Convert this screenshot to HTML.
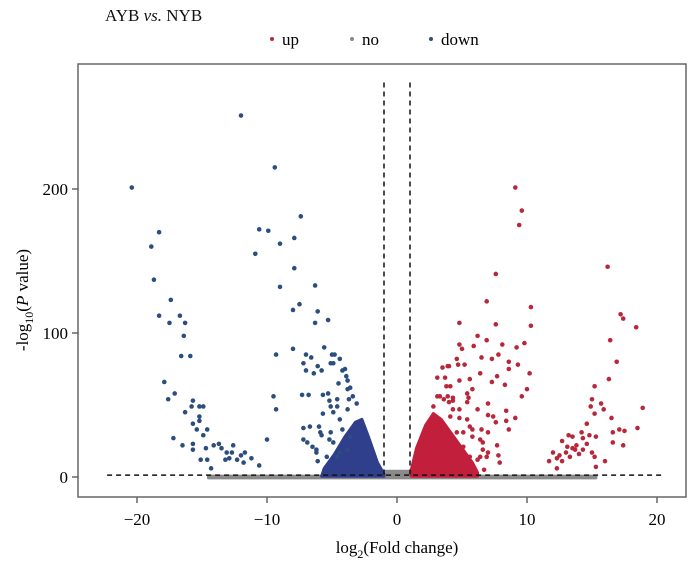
<!DOCTYPE html>
<html><head><meta charset="utf-8"><style>
html,body{margin:0;padding:0;background:#fff}
svg{display:block;font-family:"Liberation Serif",serif}
</style></head><body>
<svg id="chart" width="700" height="563" viewBox="0 0 700 563">
<text x="105" y="21" font-size="17" fill="#111">AYB <tspan font-style="italic">vs.</tspan> NYB</text>
<g>
<g><circle cx="272" cy="39" r="2" fill="#b8283a"/><text x="282" y="45" font-size="17">up</text></g>
<g><circle cx="352" cy="39" r="2" fill="#888"/><text x="362" y="45" font-size="17">no</text></g>
<g><circle cx="431" cy="39" r="2" fill="#2b4e7e"/><text x="441" y="45" font-size="17">down</text></g>
</g>
<rect x="78" y="64" width="608" height="433" fill="none" stroke="#666" stroke-width="1.5"/>
<g id="axes"></g>
<g id="marks"></g>
<text x="397" y="553" font-size="17" text-anchor="middle">log<tspan font-size="12" dy="5">2</tspan><tspan dy="-5">(Fold change)</tspan></text>
<text transform="translate(28,300) rotate(-90)" font-size="17" text-anchor="middle">-log<tspan font-size="12" dy="5">10</tspan><tspan dy="-5">(</tspan><tspan font-style="italic">P</tspan> value)</text>
</svg>
<script>
const xTicks=[-20,-10,0,10,20];
const yTicks=[0,100,200];
const downX=[-12.0,-20.4,-9.4,-18.3,-18.9,-18.7,-10.6,-9.9,-10.9,-7.4,-7.9,-9.0,-7.9,-9.0,-6.3,-7.5,-8.0,-6.1,-6.3,-5.3,-17.4,-18.3,-17.5,-16.7,-16.3,-16.4,-16.6,-15.9,-9.3,-8.0,-17.9,-17.1,-17.6,-15.7,-15.8,-15.2,-14.9,-16.3,-15.2,-15.2,-15.7,-15.4,-14.6,-14.9,-17.2,-16.5,-15.7,-15.7,-14.7,-15.1,-14.6,-14.3,-14.1,-13.7,-13.5,-13.1,-12.6,-12.7,-12.9,-12.3,-12.0,-11.7,-11.8,-11.2,-10.6,-10.0,-9.5,-9.3,-13.2,
-5.6,-7.0,-6.6,-7.2,-6.1,-7.0,-6.4,-5.8,-4.8,-4.4,-5.1,-4.0,-7.3,-6.8,-5.7,-5.3,-7.2,-6.7,-6.0,-7.2,-6.9,-6.5,-6.2,-5.8,-6.1,-5.1,-4.6,-4.9,-5.1,-4.9,-4.4,-3.9,-3.8,-3.7,
-5.0,-4.9,-4.2,-3.8,-3.6,-3.4,-3.1,-4.5,-5.2,-4.6,-3.8,-5.7,-4.4,-5.9,-5.2,-4.2,-6.2,-5.4,-4.6,-3.8,-3.6];
const downY=[251,201,215,170,160,137,172,171,155,181,166,162,145,132,133,120,116,115,107,109,123,112,107,112,107,98,84,84,85,89,66,58,54,53,49,49,49,45,42,39,37,33,33,29,27,22,23,19,20,12,12,6,22,23,20,17,22,17,13,12,15,17,10,13,8,26,56,47,12,
90,85,83,79,77,74,72,74,85,82,79,75,57,57,57,58,34,35,35,26,24,21,17,29,11,49,54,45,31,24,17,70,61,54,
85,79,74,67,62,56,51,65,53,49,47,44,40,31,26,33,19,14,14,19,28];
const upX=[9.1,9.6,9.4,16.2,7.6,6.9,10.3,17.2,17.4,18.4,4.8,7.6,10.3,16.4,6.2,6.9,8.1,9.2,9.8,5.9,4.8,5.0,6.5,7.3,7.8,8.6,9.3,8.6,16.9,4.0,4.7,5.2,6.4,5.6,7.7,10.2,7.3,8.3,16.3,10.0,9.6,15.2,5.8,5.5,7.0,8.4,9.1,15.0,15.7,14.9,15.9,15.2,18.9,16.5,14.6,17.1,17.5,18.5,16.6,16.6,17.4,12.7,13.2,13.5,14.2,14.3,14.8,15.3,13.8,14.6,13.5,13.7,13.1,13.0,12.5,12.3,12.0,11.7,12.7,13.3,15.0,15.2,16.0,15.3,12.3,14.0,14.3,
7.7,7.8,7.9,8.4,8.6,7.4,7.6,7.0,6.5,7.0,6.6,7.0,6.4,6.7,6.2,5.4,4.8,4.3,3.9,4.0,4.3,5.6,5.8,5.1,3.9,4.6,3.7,4.1,3.1,3.6,
3.5,3.1,3.8,3.3,2.8,4.3,4.8,5.4,5.8,6.4,6.6,4.1,4.6,5.1,5.6,6.2,6.9,4.8,5.4];
const upY=[201,185,175,146,141,122,118,113,110,104,107,106,105,95,98,95,92,90,93,91,92,89,83,82,85,80,78,75,80,77,78,78,72,68,70,72,66,64,68,61,56,63,61,55,51,46,41,54,51,49,47,44,48,41,37,33,32,34,31,24,22,25,29,28,31,27,29,28,22,23,20,19,21,17,15,13,17,11,11,14,17,14,11,7,6,16,19,
22,15,10,39,33,42,38,43,33,31,24,17,14,5,47,52,41,55,56,52,47,35,28,31,77,82,69,63,56,54,
76,69,63,56,49,53,47,40,33,26,19,42,31,21,14,12,14,67,58];
const downBlobX=[-5.8,-5.6,-4.8,-4.0,-3.2,-2.7,-2.2,-1.5,-1.0,-1.0];
const downBlobY=[0.5,6,16,28,38,40,28,10,2,0.5];
const upBlobX=[1.1,1.1,1.5,2.2,2.8,3.4,4.2,5.0,5.8,6.2,6.2];
const upBlobY=[0.5,5,20,36,44,40,30,20,10,3,0.5];
const noBandX=[-14.5,15.3,15.3,-14.5];
const noBandY=[-0.6,-0.6,0.6,0.6];
const noVX=[-1.4,0,1.4];
const noVY=[4,0.3,4];

const NS='http://www.w3.org/2000/svg';
const xs=v=>397+13.0*v;
const ys=v=>477-1.44*v;
const axes=document.getElementById('axes');
const marks=document.getElementById('marks');
function mk(tag,attrs,parent){const e=document.createElementNS(NS,tag);for(const k in attrs)e.setAttribute(k,attrs[k]);parent.appendChild(e);return e;}
xTicks.forEach(t=>{
  const l=mk('line',{x1:xs(t),x2:xs(t),y1:497,y2:503,stroke:'#666','stroke-width':1.5},axes);
  
  
  const tx=mk('text',{x:xs(t),y:525,'font-size':17,'text-anchor':'middle'},axes);
  tx.textContent=(t<0?'\u2212'+(-t):t);
  
  
});
yTicks.forEach(t=>{
  const l=mk('line',{x1:72,x2:78,y1:ys(t),y2:ys(t),stroke:'#666','stroke-width':1.5},axes);
  
  
  const tx=mk('text',{x:68,y:ys(t)+6,'font-size':17,'text-anchor':'end'},axes);
  tx.textContent=t;
  
  
});
function poly(X,Y,fill,name){
  const p=mk('polygon',{points:X.map((x,i)=>xs(x)+','+ys(Y[i])).join(' '),fill:fill,stroke:fill,'stroke-width':3,'stroke-linejoin':'round'},marks);
  
  
}
poly(noBandX,noBandY,'#8a8a8a','no-baseline-cloud');
poly(noVX,noVY,'#8a8a8a','no-center-cloud');
poly(downBlobX,downBlobY,'#2f3f8c','down-dense-cloud');
poly(upBlobX,upBlobY,'#c21f3c','up-dense-cloud');
downX.forEach((x,i)=>{
  const c=mk('circle',{cx:xs(x),cy:ys(downY[i]),r:2.3,fill:'#2b4e7e'},marks);
  
  
});
upX.forEach((x,i)=>{
  const c=mk('circle',{cx:xs(x),cy:ys(upY[i]),r:2.3,fill:'#b8283a'},marks);
  
  
});
const th=mk('line',{x1:xs(-22.3),x2:xs(20.4),y1:ys(1.3),y2:ys(1.3),stroke:'#111','stroke-width':1.5,'stroke-dasharray':'5,4'},marks);


[-1,1].forEach(v=>{
  const l=mk('line',{x1:xs(v),x2:xs(v),y1:ys(274),y2:ys(0),stroke:'#111','stroke-width':1.5,'stroke-dasharray':'5,4'},marks);
  
  
});
</script>
</body></html>
